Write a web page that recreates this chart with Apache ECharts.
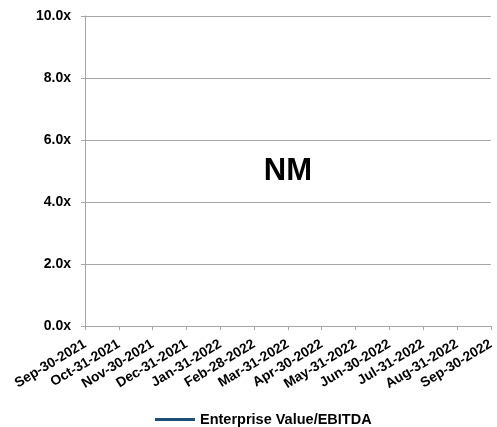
<!DOCTYPE html>
<html>
<head>
<meta charset="utf-8">
<script src="https://cdn.jsdelivr.net/npm/echarts@6/dist/echarts.min.js"></script>
<style>
  html, body { margin: 0; padding: 0; background: #fff; }
  #chart { width: 497px; height: 427px; }
</style>
</head>
<body>
<div id="chart"></div>
<script>
// Month-end dates on the category axis
const dates = [
  'Sep-30-2021', 'Oct-31-2021', 'Nov-30-2021', 'Dec-31-2021', 'Jan-31-2022',
  'Feb-28-2022', 'Mar-31-2022', 'Apr-30-2022', 'May-31-2022', 'Jun-30-2022',
  'Jul-31-2022', 'Aug-31-2022', 'Sep-30-2022'
];
// EV/EBITDA multiple: not meaningful for every date
const evEbitda = [null, null, null, null, null, null, null, null, null, null, null, null, null];
const seriesName = 'Enterprise Value/EBITDA';
const yMin = 0, yMax = 10, yStep = 2;
const noteText = 'NM';

const chart = echarts.init(document.getElementById('chart'), null, { renderer: 'canvas' });
const font = 'Arial, "Liberation Sans", sans-serif';
const gray = '#a6a6a6';

chart.setOption({
  animation: false,
  grid: { left: 85, right: 5, top: 16, bottom: 101, containLabel: false },
  xAxis: {
    type: 'category',
    data: dates,
    boundaryGap: false,
    axisLine: { lineStyle: { color: gray, width: 1 } },
    axisTick: { show: true, alignWithLabel: true, length: 4, lineStyle: { color: gray } },
    axisLabel: {
      interval: 0, rotate: 31, margin: 17,
      color: '#000', fontFamily: font, fontWeight: 'bold', fontSize: 13.8
    },
    splitLine: { show: false }
  },
  yAxis: {
    type: 'value',
    min: yMin, max: yMax, interval: yStep,
    axisLine: { show: true, lineStyle: { color: gray, width: 1 } },
    axisTick: { show: true, length: 4, lineStyle: { color: gray } },
    axisLabel: {
      margin: 14, color: '#000', fontFamily: font, fontWeight: 'bold', fontSize: 14,
      formatter: v => v.toFixed(1) + 'x'
    },
    splitLine: { show: true, lineStyle: { color: gray, width: 1 } }
  },
  legend: {
    top: 407, left: 150,
    icon: 'rect', itemWidth: 40, itemHeight: 3, itemGap: 10,
    textStyle: { color: '#000', fontFamily: font, fontWeight: 'bold', fontSize: 14.5 },
    data: [seriesName]
  },
  series: [{
    name: seriesName,
    type: 'line',
    data: evEbitda,
    symbol: 'none',
    itemStyle: { color: '#1f4e79' },
    lineStyle: { color: '#1f4e79', width: 3 }
  }]
});

// Centre the "NM" note inside the plotting area
const gridRect = chart.getModel().getComponent('grid').coordinateSystem.getRect();
chart.setOption({
  graphic: [{
    type: 'text',
    x: gridRect.x + gridRect.width / 2,
    y: gridRect.y + gridRect.height / 2,
    style: {
      text: noteText, fill: '#000',
      font: 'bold 31px ' + font,
      textAlign: 'center', textVerticalAlign: 'middle'
    }
  }]
});
</script>
</body>
</html>
